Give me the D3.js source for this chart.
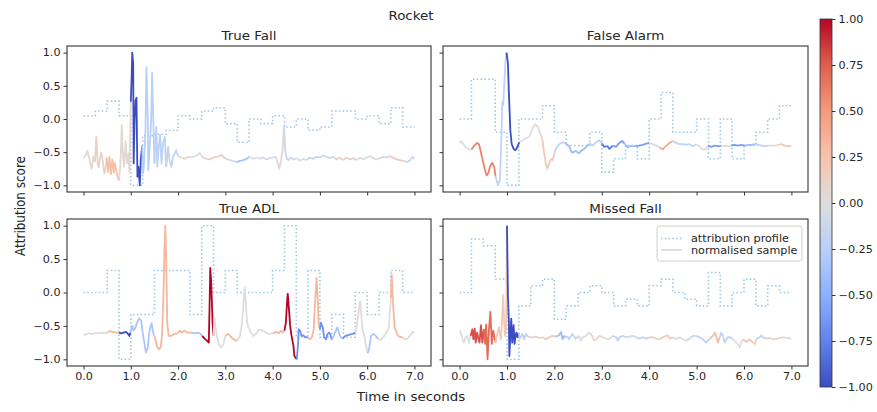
<!DOCTYPE html>
<html><head><meta charset="utf-8">
<script src="https://cdn.jsdelivr.net/npm/d3@7"></script>
<style>
body{margin:0;background:#fff}
svg{display:block}
text{font-family:"DejaVu Sans",sans-serif;fill:#262626}
</style>
</head><body>
<svg id="chart" width="877" height="412"></svg>
<script>
// ---------------- data ----------------
const suptitle = "Rocket";
const panelTitles = ["True Fall", "False Alarm", "True ADL", "Missed Fall"];
const xLabel = "Time in seconds";
const yLabel = "Attribution score";
const legendLabels = ["attribution profile", "normalised sample"];
const segmentSeconds = 0.25;
const xTicks = [0, 1, 2, 3, 4, 5, 6, 7];
const yTicks = [1, 0.5, 0, -0.5, -1];
const cbarTicks = [1, 0.75, 0.5, 0.25, 0, -0.25, -0.5, -0.75, -1];
const coolwarmStops = ["#3b4cc0","#6282ea","#8db0fe","#b8d0f9","#dddddd","#f5c4ad","#f49a7b","#de604d","#b40426"];

const profileTrueFall = [0.05,0.12,0.27,0.05,-1.0,-0.25,-0.23,-0.17,0.05,0,0.12,0.17,-0.07,-0.35,0,-0.07,0.05,-0.12,0,-0.17,-0.12,0.12,0.12,0,0.05,-0.07,0.17,-0.12];
const profileFalseAlarm = [0,0.6,0.6,-0.2,-1.0,0,0,0.2,-0.2,-0.4,-0.4,-0.2,-0.8,-0.6,-0.4,-0.6,0,0.4,-0.2,-0.2,0,-0.6,0,-0.6,-0.4,-0.2,0,0.2];
const profileTrueADL = [0,0,0.33,-1.0,-0.33,-0.33,0.33,0.33,0.33,-0.33,1.0,0,0.33,0,0,0,0.33,1.0,-0.67,0.33,-0.67,-0.33,-0.67,0,-0.33,0,0.33,0];
const profileMissedFall = [0,0.8,0.7,0.2,-1.0,-0.2,0.1,0.2,-0.4,-0.2,0,0.1,0,-0.2,-0.1,-0.2,0.1,0.2,0,-0.1,-0.2,0.3,-0.2,0,0.2,-0.2,0.1,0];

const sampleTrueFall = [[0.00,-0.59],[0.04,-0.55],[0.08,-0.48],[0.13,-0.62],[0.17,-0.75],[0.21,-0.57],[0.24,-0.65],[0.27,-0.27],[0.30,-0.68],[0.32,-0.73],[0.35,-0.58],[0.38,-0.51],[0.41,-0.65],[0.44,-0.82],[0.47,-0.73],[0.49,-0.58],[0.52,-0.80],[0.55,-0.57],[0.58,-0.83],[0.61,-0.61],[0.64,-0.81],[0.66,-0.66],[0.69,-0.77],[0.72,-0.87],[0.75,-0.93],[0.78,-0.67],[0.81,-0.09],[0.83,-0.52],[0.86,-0.72],[0.89,-0.33],[0.92,-0.67],[0.95,-0.52],[0.97,-0.80],[1.00,0.26],[1.02,0.69],[1.03,1.00],[1.05,0.84],[1.06,-0.67],[1.08,-0.02],[1.10,0.28],[1.12,0.32],[1.14,-0.87],[1.16,-0.72],[1.19,-1.00],[1.21,-0.62],[1.24,-0.40],[1.26,-0.82],[1.28,-0.67],[1.31,-0.17],[1.33,0.78],[1.36,-0.02],[1.37,-0.77],[1.40,-0.42],[1.43,-0.02],[1.45,0.70],[1.48,-0.12],[1.50,-0.67],[1.52,-0.32],[1.54,-0.12],[1.56,-0.72],[1.59,-0.42],[1.62,-0.24],[1.65,-0.67],[1.68,-0.37],[1.72,-0.27],[1.75,-0.72],[1.79,-0.42],[1.82,-0.62],[1.86,-0.72],[1.89,-0.57],[1.93,-0.52],[1.96,-0.47],[2.00,-0.56],[2.07,-0.58],[2.14,-0.60],[2.21,-0.57],[2.28,-0.58],[2.35,-0.56],[2.40,-0.55],[2.46,-0.51],[2.51,-0.57],[2.60,-0.60],[2.67,-0.61],[2.74,-0.58],[2.81,-0.57],[2.87,-0.56],[2.92,-0.54],[2.97,-0.58],[3.02,-0.60],[3.09,-0.62],[3.16,-0.63],[3.23,-0.65],[3.31,-0.63],[3.38,-0.62],[3.45,-0.60],[3.51,-0.57],[3.59,-0.60],[3.66,-0.58],[3.73,-0.60],[3.80,-0.58],[3.87,-0.61],[3.94,-0.59],[4.01,-0.58],[4.07,-0.57],[4.11,-0.67],[4.14,-0.75],[4.18,-0.62],[4.21,-0.47],[4.24,-0.11],[4.27,-0.50],[4.30,-0.60],[4.34,-0.62],[4.38,-0.58],[4.44,-0.61],[4.51,-0.59],[4.58,-0.63],[4.65,-0.60],[4.72,-0.62],[4.79,-0.58],[4.86,-0.60],[4.93,-0.57],[5.00,-0.58],[5.07,-0.55],[5.14,-0.57],[5.21,-0.59],[5.28,-0.57],[5.35,-0.61],[5.42,-0.58],[5.49,-0.62],[5.56,-0.58],[5.64,-0.61],[5.71,-0.59],[5.78,-0.62],[5.85,-0.58],[5.92,-0.61],[5.99,-0.58],[6.06,-0.56],[6.13,-0.59],[6.20,-0.61],[6.27,-0.59],[6.34,-0.57],[6.41,-0.58],[6.48,-0.56],[6.55,-0.58],[6.62,-0.61],[6.69,-0.62],[6.77,-0.63],[6.84,-0.65],[6.91,-0.62],[6.96,-0.57],[7.00,-0.60]];

const sampleFalseAlarm = [[0.00,-0.36],[0.03,-0.33],[0.06,-0.36],[0.13,-0.42],[0.20,-0.46],[0.25,-0.46],[0.30,-0.41],[0.37,-0.36],[0.41,-0.38],[0.44,-0.47],[0.48,-0.60],[0.53,-0.75],[0.57,-0.85],[0.61,-0.81],[0.64,-0.72],[0.69,-0.66],[0.73,-0.72],[0.76,-0.87],[0.81,-1.00],[0.85,-0.92],[0.87,-0.52],[0.89,-0.07],[0.90,0.26],[0.92,0.21],[0.94,0.49],[0.97,0.89],[0.99,1.00],[1.02,0.84],[1.04,0.39],[1.07,-0.17],[1.10,-0.38],[1.14,-0.45],[1.17,-0.47],[1.20,-0.45],[1.23,-0.40],[1.26,-0.35],[1.33,-0.32],[1.40,-0.29],[1.47,-0.27],[1.54,-0.14],[1.59,-0.08],[1.64,-0.11],[1.69,-0.19],[1.75,-0.32],[1.78,-0.50],[1.82,-0.67],[1.85,-0.75],[1.89,-0.67],[1.93,-0.60],[1.96,-0.62],[2.00,-0.52],[2.03,-0.45],[2.10,-0.38],[2.17,-0.35],[2.24,-0.37],[2.31,-0.41],[2.35,-0.48],[2.38,-0.51],[2.45,-0.48],[2.52,-0.52],[2.56,-0.48],[2.63,-0.45],[2.74,-0.37],[2.81,-0.40],[2.88,-0.35],[2.95,-0.32],[3.00,-0.37],[3.05,-0.42],[3.12,-0.41],[3.16,-0.45],[3.23,-0.40],[3.30,-0.42],[3.37,-0.36],[3.43,-0.33],[3.48,-0.37],[3.55,-0.43],[3.58,-0.41],[3.65,-0.41],[3.72,-0.41],[3.79,-0.40],[3.86,-0.39],[3.94,-0.37],[4.00,-0.36],[4.08,-0.38],[4.15,-0.40],[4.22,-0.43],[4.29,-0.46],[4.33,-0.42],[4.37,-0.40],[4.43,-0.36],[4.50,-0.33],[4.57,-0.36],[4.64,-0.38],[4.71,-0.38],[4.78,-0.39],[4.85,-0.38],[4.92,-0.41],[4.99,-0.38],[5.06,-0.41],[5.13,-0.46],[5.19,-0.45],[5.24,-0.40],[5.31,-0.42],[5.38,-0.40],[5.45,-0.41],[5.52,-0.41],[5.59,-0.40],[5.66,-0.41],[5.73,-0.40],[5.80,-0.39],[5.87,-0.40],[5.94,-0.39],[6.02,-0.40],[6.09,-0.39],[6.16,-0.39],[6.23,-0.38],[6.30,-0.39],[6.37,-0.40],[6.44,-0.41],[6.51,-0.40],[6.58,-0.40],[6.65,-0.40],[6.72,-0.39],[6.79,-0.38],[6.86,-0.40],[6.93,-0.41],[7.00,-0.41]];

const sampleTrueADL = [[0.00,-0.64],[0.06,-0.62],[0.13,-0.61],[0.20,-0.62],[0.27,-0.60],[0.34,-0.61],[0.41,-0.60],[0.48,-0.61],[0.51,-0.59],[0.55,-0.58],[0.62,-0.59],[0.69,-0.60],[0.75,-0.60],[0.80,-0.61],[0.85,-0.60],[0.90,-0.59],[0.94,-0.62],[0.97,-0.65],[0.99,-0.60],[1.03,-0.50],[1.06,-0.57],[1.10,-0.52],[1.15,-0.42],[1.18,-0.39],[1.22,-0.42],[1.25,-0.60],[1.29,-0.77],[1.32,-0.90],[1.36,-0.82],[1.38,-0.65],[1.41,-0.52],[1.44,-0.46],[1.46,-0.55],[1.49,-0.65],[1.51,-0.67],[1.55,-0.80],[1.59,-0.85],[1.63,-0.82],[1.66,-0.65],[1.69,-0.04],[1.71,0.61],[1.73,1.00],[1.75,0.46],[1.77,-0.45],[1.80,-0.65],[1.85,-0.65],[1.92,-0.62],[1.99,-0.61],[2.04,-0.57],[2.08,-0.60],[2.13,-0.57],[2.20,-0.60],[2.27,-0.60],[2.35,-0.61],[2.42,-0.60],[2.46,-0.61],[2.51,-0.65],[2.56,-0.69],[2.61,-0.72],[2.65,-0.75],[2.67,-0.04],[2.68,0.37],[2.70,0.16],[2.73,-0.45],[2.75,-0.65],[2.77,-0.37],[2.79,-0.52],[2.82,-0.65],[2.86,-0.77],[2.91,-0.82],[2.96,-0.77],[3.00,-0.65],[3.05,-0.62],[3.10,-0.65],[3.15,-0.69],[3.21,-0.72],[3.26,-0.71],[3.31,-0.65],[3.35,-0.47],[3.39,-0.09],[3.41,0.08],[3.43,-0.14],[3.46,-0.45],[3.49,-0.52],[3.54,-0.60],[3.59,-0.65],[3.66,-0.61],[3.72,-0.55],[3.79,-0.57],[3.86,-0.60],[3.93,-0.62],[4.00,-0.61],[4.07,-0.59],[4.13,-0.61],[4.18,-0.57],[4.21,-0.60],[4.25,-0.57],[4.28,-0.45],[4.31,-0.09],[4.32,-0.02],[4.35,-0.29],[4.37,-0.50],[4.40,-0.65],[4.44,-0.80],[4.46,-0.95],[4.51,-1.00],[4.54,-0.75],[4.55,-0.55],[4.58,-0.57],[4.61,-0.65],[4.65,-0.64],[4.69,-0.67],[4.74,-0.67],[4.79,-0.70],[4.83,-0.67],[4.87,-0.55],[4.89,-0.24],[4.93,0.22],[4.96,-0.19],[4.97,-0.45],[5.00,-0.55],[5.02,-0.45],[5.06,-0.52],[5.09,-0.67],[5.13,-0.70],[5.16,-0.62],[5.20,-0.60],[5.23,-0.65],[5.25,-0.71],[5.28,-0.67],[5.32,-0.60],[5.37,-0.52],[5.41,-0.62],[5.44,-0.67],[5.48,-0.69],[5.54,-0.65],[5.58,-0.64],[5.63,-0.63],[5.69,-0.62],[5.75,-0.60],[5.78,-0.50],[5.82,-0.29],[5.85,-0.13],[5.87,-0.27],[5.90,-0.55],[5.94,-0.65],[5.97,-0.77],[6.01,-0.91],[6.04,-0.85],[6.08,-0.65],[6.13,-0.62],[6.18,-0.65],[6.24,-0.70],[6.29,-0.71],[6.36,-0.65],[6.43,-0.57],[6.46,-0.52],[6.50,-0.09],[6.52,0.26],[6.55,-0.19],[6.58,-0.52],[6.62,-0.60],[6.66,-0.65],[6.71,-0.67],[6.75,-0.67],[6.80,-0.70],[6.85,-0.69],[6.90,-0.65],[6.96,-0.59],[7.00,-0.60]];

const sampleMissedFall = [[0.00,-0.57],[0.03,-0.62],[0.06,-0.69],[0.09,-0.75],[0.13,-0.67],[0.16,-0.65],[0.20,-0.75],[0.23,-0.65],[0.27,-0.55],[0.29,-0.70],[0.32,-0.54],[0.34,-0.75],[0.37,-0.60],[0.39,-0.67],[0.42,-0.75],[0.45,-0.49],[0.48,-0.75],[0.51,-0.55],[0.54,-0.77],[0.56,-0.48],[0.59,-1.00],[0.62,-0.55],[0.65,-0.29],[0.68,-0.77],[0.71,-0.57],[0.73,-0.65],[0.76,-0.75],[0.80,-0.60],[0.83,-0.52],[0.87,-0.70],[0.89,-0.50],[0.92,-0.04],[0.94,-0.45],[0.96,-0.65],[0.98,-0.55],[1.00,1.00],[1.02,-0.04],[1.04,-0.45],[1.05,-0.95],[1.07,-0.65],[1.09,-0.39],[1.11,-0.75],[1.14,-0.49],[1.16,-0.77],[1.18,-0.64],[1.20,-0.60],[1.22,-0.67],[1.25,-0.61],[1.27,-0.69],[1.30,-0.65],[1.33,-0.62],[1.36,-0.70],[1.40,-0.62],[1.43,-0.65],[1.47,-0.67],[1.54,-0.67],[1.61,-0.66],[1.68,-0.68],[1.75,-0.67],[1.82,-0.70],[1.89,-0.67],[1.96,-0.65],[2.03,-0.66],[2.10,-0.64],[2.14,-0.59],[2.17,-0.70],[2.21,-0.65],[2.24,-0.67],[2.28,-0.66],[2.31,-0.70],[2.35,-0.65],[2.38,-0.62],[2.45,-0.69],[2.52,-0.65],[2.56,-0.72],[2.60,-0.67],[2.67,-0.65],[2.72,-0.60],[2.77,-0.62],[2.81,-0.67],[2.84,-0.72],[2.88,-0.70],[2.95,-0.65],[3.02,-0.67],[3.09,-0.69],[3.16,-0.70],[3.23,-0.65],[3.30,-0.67],[3.34,-0.72],[3.37,-0.67],[3.44,-0.65],[3.51,-0.67],[3.58,-0.66],[3.65,-0.65],[3.72,-0.67],[3.79,-0.69],[3.86,-0.67],[3.94,-0.69],[4.01,-0.67],[4.08,-0.67],[4.15,-0.69],[4.22,-0.70],[4.29,-0.67],[4.36,-0.65],[4.39,-0.64],[4.43,-0.69],[4.50,-0.67],[4.57,-0.70],[4.64,-0.67],[4.71,-0.70],[4.78,-0.72],[4.85,-0.69],[4.92,-0.65],[4.99,-0.65],[5.06,-0.67],[5.13,-0.70],[5.20,-0.75],[5.27,-0.70],[5.35,-0.64],[5.39,-0.60],[5.42,-0.67],[5.45,-0.75],[5.49,-0.67],[5.52,-0.60],[5.56,-0.65],[5.59,-0.75],[5.63,-0.70],[5.66,-0.67],[5.70,-0.67],[5.77,-0.70],[5.84,-0.75],[5.91,-0.82],[5.94,-0.75],[5.98,-0.70],[6.05,-0.74],[6.12,-0.70],[6.19,-0.75],[6.23,-0.77],[6.26,-0.70],[6.33,-0.67],[6.37,-0.64],[6.40,-0.67],[6.47,-0.69],[6.54,-0.68],[6.61,-0.70],[6.69,-0.69],[6.76,-0.68],[6.83,-0.67],[6.90,-0.68],[7.00,-0.69]];

const panels = [
  {title: panelTitles[0], sample: sampleTrueFall, profile: profileTrueFall},
  {title: panelTitles[1], sample: sampleFalseAlarm, profile: profileFalseAlarm},
  {title: panelTitles[2], sample: sampleTrueADL, profile: profileTrueADL},
  {title: panelTitles[3], sample: sampleMissedFall, profile: profileMissedFall}
];

// ---------------- layout ----------------
const SX = 1.12;               // horizontal text stretch of the reference
const INK = "#333333";
const PROFILE_COLOR = "#9fc6e2";
const boxes = [
  {x0:67, x1:431, y0:46, y1:192},
  {x0:443, x1:808, y0:46, y1:192},
  {x0:67, x1:431, y0:219, y1:366},
  {x0:443, x1:808, y0:219, y1:366}
];
const svg = d3.select("#chart");
const color = d3.scaleLinear().domain(d3.range(coolwarmStops.length).map(i => -1 + 2*i/(coolwarmStops.length-1))).range(coolwarmStops).interpolate(d3.interpolateRgb).clamp(true);

function txt(g, x, y, s, size, anchor, rot, dy) {
  return g.append("text")
    .attr("transform", `translate(${x},${y}) scale(${SX},1)` + (rot ? ` rotate(${rot})` : ""))
    .attr("text-anchor", anchor || "start")
    .attr("dy", dy || 0)
    .style("font-size", size + "px")
    .text(s);
}

function styleAxis(g) {
  g.attr("font-family", null).attr("font-size", null);
  g.select(".domain").remove();
  g.selectAll(".tick line").attr("stroke", INK).attr("stroke-width", 1);
  g.selectAll(".tick text").style("font-size", "10px").attr("fill", "#262626")
    .each(function() {
      const t = d3.select(this);
      const x = +t.attr("x") || 0, y = +t.attr("y") || 0;
      t.attr("x", null).attr("y", null).attr("transform", `translate(${x},${y}) scale(${SX},1)`);
    });
}

panels.forEach((p, i) => {
  const b = boxes[i];
  const x = d3.scaleLinear().domain([-0.35, 7.35]).range([b.x0, b.x1]);
  const y = d3.scaleLinear().domain([-1.1, 1.1]).range([b.y1, b.y0]);
  const g = svg.append("g");

  // profile (step line)
  const stepPts = p.profile.map((v, k) => [k * segmentSeconds, v]);
  stepPts.push([p.profile.length * segmentSeconds, p.profile[p.profile.length - 1]]);
  g.append("path")
    .attr("d", d3.line().x(d => x(d[0])).y(d => y(d[1])).curve(d3.curveStepAfter)(stepPts))
    .attr("fill", "none").attr("stroke", PROFILE_COLOR).attr("stroke-width", 1.6)
    .attr("stroke-dasharray", "1.5,2.3");

  // sample line, coloured per segment by the profile value
  const s = p.sample;
  const segIdx = t => Math.min(p.profile.length - 1, Math.max(0, Math.floor(t / segmentSeconds)));
  const groups = [];
  for (let j = 0; j < s.length - 1; j++) {
    const k = segIdx((s[j][0] + s[j + 1][0]) / 2);
    const last = groups[groups.length - 1];
    if (last && last.k === k) last.pts.push(s[j + 1]);
    else groups.push({k, pts: [s[j], s[j + 1]]});
  }
  const line = d3.line().x(d => x(d[0])).y(d => y(d[1]));
  g.selectAll("path.sample").data(groups).join("path")
    .attr("class", "sample")
    .attr("d", d => line(d.pts))
    .attr("fill", "none")
    .attr("stroke", d => color(p.profile[d.k]))
    .attr("stroke-width", 1.8)
    .attr("stroke-linejoin", "round");

  // frame
  g.append("rect").attr("x", b.x0).attr("y", b.y0).attr("width", b.x1 - b.x0).attr("height", b.y1 - b.y0)
    .attr("fill", "none").attr("stroke", INK).attr("stroke-width", 1.1);

  // axes
  const bottom = i >= 2, left = i % 2 === 0;
  g.append("g").attr("transform", `translate(0,${b.y1})`)
    .call(d3.axisBottom(x).tickValues(xTicks).tickSize(3.5).tickPadding(3)
      .tickFormat(bottom ? d3.format(".1f") : ""))
    .call(styleAxis);
  g.append("g").attr("transform", `translate(${b.x0},0)`)
    .call(d3.axisLeft(y).tickValues(yTicks).tickSize(3.5).tickPadding(3)
      .tickFormat(left ? d3.format(".1f") : ""))
    .call(styleAxis);

  // title
  txt(g, (b.x0 + b.x1) / 2, b.y0 - 6.5, p.title, 12, "middle");
});

// super title & axis labels
txt(svg, 411, 20, suptitle, 12, "middle");
txt(svg, 411, 401, xLabel, 12, "middle");
txt(svg, 25, 206, yLabel, 12, "middle", -90);

// legend (inside Missed Fall panel)
const lg = svg.append("g");
lg.append("rect").attr("x", 657).attr("y", 226).attr("width", 145).attr("height", 35).attr("rx", 2.5)
  .attr("fill", "#fff").attr("fill-opacity", 0.8).attr("stroke", "#d0d0d0").attr("stroke-width", 1);
lg.append("line").attr("x1", 661).attr("x2", 682).attr("y1", 238.5).attr("y2", 238.5)
  .attr("stroke", PROFILE_COLOR).attr("stroke-width", 1.6).attr("stroke-dasharray", "1.5,2.3");
lg.append("line").attr("x1", 661).attr("x2", 682).attr("y1", 250).attr("y2", 250)
  .attr("stroke", color(0)).attr("stroke-width", 1.8);
txt(lg, 691, 242, legendLabels[0], 10, "start");
txt(lg, 691, 253.5, legendLabels[1], 10, "start");

// colorbar
const cb = {x0: 820, x1: 832, y0: 19, y1: 387};
const cy = d3.scaleLinear().domain([-1, 1]).range([cb.y1, cb.y0]);
const defs = svg.append("defs");
const grad = defs.append("linearGradient").attr("id", "cw").attr("x1", 0).attr("x2", 0).attr("y1", 1).attr("y2", 0);
d3.range(0, 1.0001, 1 / 64).forEach(f => {
  grad.append("stop").attr("offset", f).attr("stop-color", color(-1 + 2 * f));
});
svg.append("rect").attr("x", cb.x0).attr("y", cb.y0).attr("width", cb.x1 - cb.x0).attr("height", cb.y1 - cb.y0)
  .attr("fill", "url(#cw)").attr("stroke", INK).attr("stroke-width", 0.8);
svg.append("g").attr("transform", `translate(${cb.x1},0)`)
  .call(d3.axisRight(cy).tickValues(cbarTicks).tickSize(3.5).tickPadding(3).tickFormat(d3.format(".2f")))
  .call(styleAxis);
</script>
</body></html>
